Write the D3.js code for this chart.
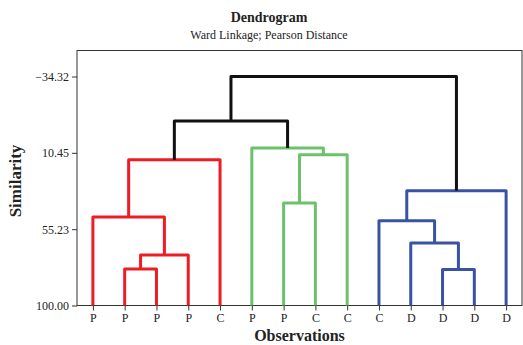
<!DOCTYPE html>
<html>
<head>
<meta charset="utf-8">
<script src="https://cdn.jsdelivr.net/npm/d3@7"></script>
<style>
  body { margin: 0; background: #fff; }
  text { font-family: "Liberation Serif", "Times New Roman", serif; fill: #222; }
</style>
</head>
<body>
<div id="chart"></div>
<script>
// leaves in display order
const leafLabels = ['P', 'P', 'P', 'P', 'C', 'P', 'P', 'C', 'C', 'C', 'D', 'D', 'D', 'D'];
// merges: new cluster ids start at leafLabels.length
const mergeA = [1, 14, 0, 16, 6, 18, 5, 17, 11, 10, 9, 24, 21];
const mergeB = [2, 3, 15, 4, 7, 8, 19, 20, 12, 22, 23, 13, 25];
const mergeSim = [78.65, 70.44, 48.15, 14.54, 39.94, 11.61, 7.68, -8.16, 78.9, 63.4, 50.32, 32.72, -34.32];
const mergeGroup = ['r', 'r', 'r', 'r', 'g', 'g', 'g', 'k', 'b', 'b', 'b', 'b', 'k'];
const yTicks = [-34.32, 10.45, 55.23, 100.00];

const colors = {r: '#ee1d24', g: '#6cc26a', b: '#3953a4', k: '#111'};

const width = 523, height = 345;
const plotLeft = 77, plotRight = 522, plotTop = 50.5, plotBottom = 305.5;

const svg = d3.select('#chart').append('svg')
  .attr('width', width)
  .attr('height', height);

const x = d3.scalePoint()
  .domain(d3.range(leafLabels.length))
  .range([plotLeft, plotRight])
  .padding(0.5);

const y = d3.scaleLinear()
  .domain([100, -34.32])
  .range([plotBottom, 76.5]);

// node positions
let nodes = leafLabels.map((l, i) => ({x: x(i), s: 100}));
mergeA.forEach((a, i) => {
  let b = mergeB[i];
  nodes.push({x: (nodes[a].x + nodes[b].x) / 2, s: mergeSim[i]});
});

// frame
svg.append('rect')
  .attr('x', plotLeft).attr('y', plotTop)
  .attr('width', plotRight - plotLeft).attr('height', plotBottom - plotTop)
  .attr('fill', 'none')
  .attr('stroke', '#333')
  .attr('stroke-width', 1);

// links
let links = svg.append('g').attr('fill', 'none').attr('stroke-width', 3).attr('stroke-linejoin', 'round');
mergeA.forEach((a, i) => {
  let na = nodes[a], nb = nodes[mergeB[i]];
  let h = y(mergeSim[i]);
  links.append('path')
    .attr('d', `M${na.x},${y(na.s)}V${h}H${nb.x}V${y(nb.s)}`)
    .attr('stroke', colors[mergeGroup[i]]);
});

// axes
let yAxis = svg.append('g')
  .attr('transform', `translate(${plotLeft},0)`)
  .call(d3.axisLeft(y).tickValues(yTicks).tickFormat(d3.format('.2f')).tickSize(5).tickSizeOuter(0));
yAxis.select('.domain').remove();
yAxis.selectAll('line').attr('stroke', '#333');
yAxis.selectAll('text').attr('font-size', 12).attr('font-family', '"Liberation Serif", serif').attr('fill', '#222');

let xAxis = svg.append('g')
  .attr('transform', `translate(0,${plotBottom})`)
  .call(d3.axisBottom(x).tickFormat(i => leafLabels[i]).tickSize(5).tickSizeOuter(0));
xAxis.select('.domain').remove();
xAxis.selectAll('line').attr('stroke', '#333');
xAxis.selectAll('text').attr('font-size', 12).attr('font-family', '"Liberation Serif", serif').attr('fill', '#222');

// titles
svg.append('text')
  .attr('x', 269).attr('y', 22)
  .attr('text-anchor', 'middle')
  .attr('font-size', 14).attr('font-weight', 'bold')
  .text('Dendrogram');
svg.append('text')
  .attr('x', 269).attr('y', 39)
  .attr('text-anchor', 'middle')
  .attr('font-size', 12)
  .text('Ward Linkage; Pearson Distance');

svg.append('text')
  .attr('x', (plotLeft + plotRight) / 2).attr('y', 341)
  .attr('text-anchor', 'middle')
  .attr('font-size', 16).attr('font-weight', 'bold')
  .text('Observations');

svg.append('text')
  .attr('transform', `translate(21,${(plotTop + plotBottom) / 2 + 3}) rotate(-90)`)
  .attr('text-anchor', 'middle')
  .attr('font-size', 17).attr('font-weight', 'bold')
  .text('Similarity');
</script>
</body>
</html>
